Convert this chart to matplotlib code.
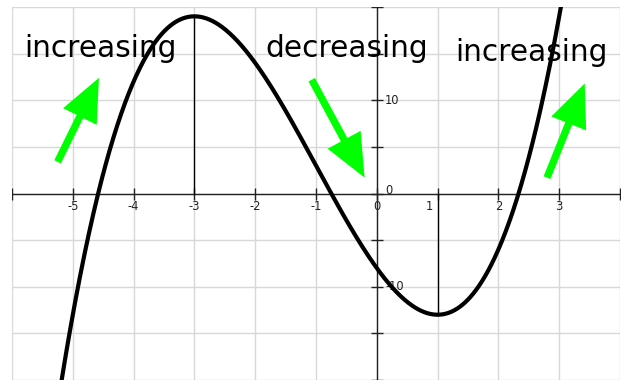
import numpy as np
import matplotlib
matplotlib.use("Agg")
import matplotlib.pyplot as plt
from matplotlib.patches import FancyArrowPatch

plt.rcParams["axes.unicode_minus"] = False

# cubic f(x) = x^3 + 3x^2 - 9x - 8 (highest power first)
coeffs = [1, 3, -9, -8]
x_range = (-6, 4)
y_range = (-20, 20)
extrema_x = [-3, 1]

x_tick_labels = ["-5", "-4", "-3", "-2", "-1", "0", "1", "2", "3"]
x_tick_values = [-5, -4, -3, -2, -1, 0, 1, 2, 3]
y_tick_labels = ["10", "0", "-10"]
y_tick_values = [10, 0, -10]

labels = ["increasing", "decreasing", "increasing"]
label_pos = [(-5.80, 14.65), (-1.83, 14.65), (1.29, 14.2)]
arrows = [((-5.25, 3.4), (-4.57, 12.4)),
          ((-1.07, 12.2), (-0.20, 1.7)),
          ((2.80, 1.7), (3.42, 11.8))]

fig = plt.figure(figsize=(6.25, 3.80), dpi=100)
ax = fig.add_axes([12 / 625, 0, 608 / 625, 373 / 380])
ax.set_xlim(*x_range)
ax.set_ylim(*y_range)

for s in ax.spines.values():
    s.set_visible(False)
ax.set_xticks([])
ax.set_yticks([])

grid_c = "#d8d8d8"
for gx in range(x_range[0], x_range[1] + 1):
    ax.axvline(gx, color=grid_c, lw=1, zorder=0)
for gy in range(y_range[0], y_range[1] + 1, 5):
    ax.axhline(gy, color=grid_c, lw=1, zorder=0)

# coordinate axes
ax.axhline(0, color="#222222", lw=1, zorder=1)
ax.axvline(0, color="#222222", lw=1, zorder=1)

tick_len = 4.3  # points
for gx in range(x_range[0], x_range[1] + 1):
    ax.plot([gx], [0], marker="|", ms=2 * tick_len, mew=1, color="#222222", zorder=1)
for gy in range(y_range[0], y_range[1] + 1, 5):
    ax.plot([0], [gy], marker="_", ms=2 * tick_len, mew=1, color="#222222", zorder=1)

for v, t in zip(x_tick_values, x_tick_labels):
    dx = -6 if v == 1 else 0
    ax.annotate(t, (v, 0), xytext=(dx, -9), textcoords="offset points",
                ha="center", va="center", fontsize=8.3, color="#222222")
for v, t in zip(y_tick_values, y_tick_labels):
    dy = 2 if v == 0 else 0
    ax.annotate(t, (0, v), xytext=(6, dy), textcoords="offset points",
                ha="left", va="center", fontsize=8.3, color="#222222")

# curve and the verticals at its turning points
xs = np.linspace(x_range[0], x_range[1], 800)
ys = np.polyval(coeffs, xs)
ax.plot(xs, ys, color="black", lw=3, zorder=3, solid_capstyle="butt")
for ex in extrema_x:
    ax.plot([ex, ex], [0, np.polyval(coeffs, ex)], color="black", lw=1, zorder=2)

for t, (tx, ty) in zip(labels, label_pos):
    ax.text(tx, ty, t, fontsize=21.3, ha="left", va="baseline", color="black", zorder=4)

for (tail, tip) in arrows:
    arr = FancyArrowPatch(tail, tip, arrowstyle="simple,head_length=31,head_width=27,tail_width=5.3",
                          mutation_scale=1, color="#00ff00", lw=0, shrinkA=0, shrinkB=0, zorder=5)
    ax.add_patch(arr)

fig.savefig("out.png", dpi=100)
